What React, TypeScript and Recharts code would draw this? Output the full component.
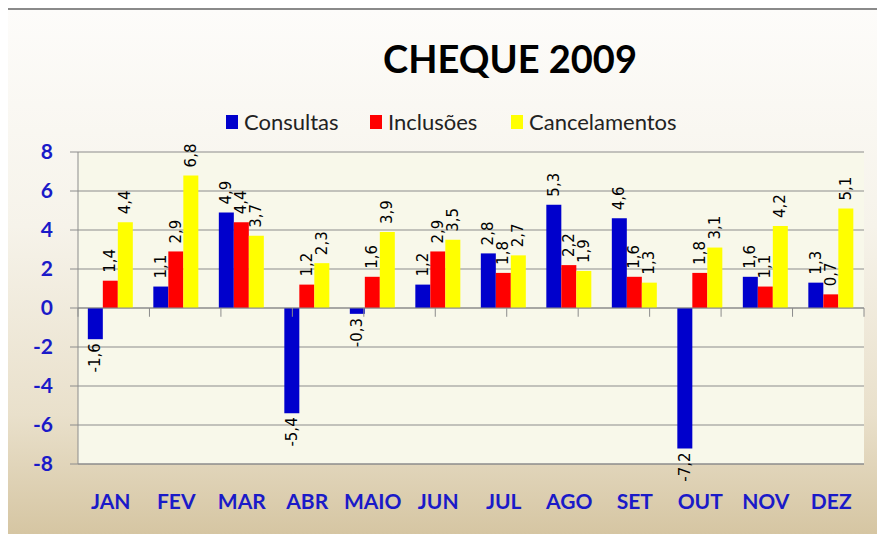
import { BarChart, Bar, XAxis, YAxis, CartesianGrid, Legend, ReferenceLine, LabelList } from "recharts";

const months = ["JAN", "FEV", "MAR", "ABR", "MAIO", "JUN", "JUL", "AGO", "SET", "OUT", "NOV", "DEZ"];
const consultas = [-1.6, 1.1, 4.9, -5.4, -0.3, 1.2, 2.8, 5.3, 4.6, -7.2, 1.6, 1.3];
const inclusoes = [1.4, 2.9, 4.4, 1.2, 1.6, 2.9, 1.8, 2.2, 1.6, 1.8, 1.1, 0.7];
const cancelamentos = [4.4, 6.8, 3.7, 2.3, 3.9, 3.5, 2.7, 1.9, 1.3, 3.1, 4.2, 5.1];
const yTicks = [-8, -6, -4, -2, 0, 2, 4, 6, 8];

const series = [
  { key: "consultas", name: "Consultas", color: "#0000cc", w: 144 },
  { key: "inclusoes", name: "Inclusões", color: "#ff0000", w: 141 },
  { key: "cancelamentos", name: "Cancelamentos", color: "#ffff00", w: 180 },
];

const data = months.map((m, i) => ({
  month: m,
  consultas: consultas[i],
  inclusoes: inclusoes[i],
  cancelamentos: cancelamentos[i],
}));

const boundaries = Array.from({ length: 13 }, (_, i) => i);

const fmt = (v: number) => String(v).replace(".", ",");

const ValueLabel = (props: any) => {
  const x = Number(props.x);
  const y = Number(props.y);
  const w = Number(props.width);
  const h = Number(props.height);
  const v = Number(props.value);
  const cx = x + w / 2 + 5;
  const top = Math.min(y, y + h);
  const bottom = Math.max(y, y + h);
  const pos = v >= 0;
  const ly = pos ? top - 8 : bottom + 4;
  return (
    <text
      x={cx}
      y={ly}
      transform={`rotate(-90 ${cx} ${ly})`}
      textAnchor={pos ? "start" : "end"}
      fontFamily="DejaVu Sans"
      fontSize={15}
      fill="#000"
    >
      {fmt(v)}
    </text>
  );
};

const LegendBox = () => (
  <div style={{ display: "flex", fontFamily: "Lato", fontSize: 22, color: "#222", lineHeight: "24px" }}>
    {series.map((s) => (
      <div key={s.key} style={{ display: "flex", alignItems: "center", width: s.w }}>
        <span style={{ display: "inline-block", width: 12, height: 14, background: s.color, marginRight: 6 }} />
        <span>{s.name}</span>
      </div>
    ))}
  </div>
);

export default function App() {
  return (
    <div
      style={{
        position: "relative",
        marginLeft: -3,
        width: 900,
        height: 540,
        border: "2px solid #8a8a8a",
        background: "linear-gradient(to bottom, #fdfcfa 0%, #f6f3ea 40%, #e9e0cb 75%, #d3c29d 100%)",
      }}
    >
      <div
        style={{
          position: "absolute",
          top: 25,
          left: 0,
          width: 1006,
          textAlign: "center",
          fontFamily: "Lato",
          fontWeight: 700,
          fontSize: 38,
          color: "#000",
        }}
      >
        CHEQUE 2009
      </div>
      <BarChart
        width={878}
        height={524}
        data={data}
        margin={{ top: 142, right: 21, left: 11, bottom: 30 }}
        barCategoryGap="15%"
        barGap={0}
      >
        <CartesianGrid vertical={false} stroke="#8c8c8c" fill="#f8f8ea" fillOpacity={1} />
        <XAxis
          dataKey="month"
          axisLine={{ stroke: "#8c8c8c" }}
          tickLine={false}
          tickSize={0}
          tickMargin={30}
          height={40}
          tick={{ fill: "#1a1ac8", fontFamily: "Lato", fontWeight: 700, fontSize: 21 }}
        />
        <XAxis xAxisId="grid" type="number" domain={[0, 12]} allowDataOverflow hide />
        <YAxis
          domain={[-8, 8]}
          ticks={yTicks}
          width={60}
          axisLine={{ stroke: "#8c8c8c" }}
          tickLine={{ stroke: "#8c8c8c" }}
          tickSize={8}
          tickMargin={17}
          tick={{ fill: "#1a1ac8", fontFamily: "Lato", fontWeight: 700, fontSize: 21 }}
        />
        <Legend
          verticalAlign="middle"
          layout="horizontal"
          wrapperStyle={{ top: 100, left: 219, width: "auto" }}
          content={() => <LegendBox />}
        />
        {series.map((s) => (
          <Bar key={s.key} dataKey={s.key} name={s.name} fill={s.color} isAnimationActive={false}>
            <LabelList dataKey={s.key} content={ValueLabel} />
          </Bar>
        ))}
        <ReferenceLine y={0} stroke="#8c8c8c" />
        {boundaries.map((b) => (
          <ReferenceLine
            key={b}
            xAxisId="grid"
            segment={[
              { x: b, y: 0 },
              { x: b, y: -0.45 },
            ]}
            stroke="#8c8c8c"
          />
        ))}
      </BarChart>
    </div>
  );
}
